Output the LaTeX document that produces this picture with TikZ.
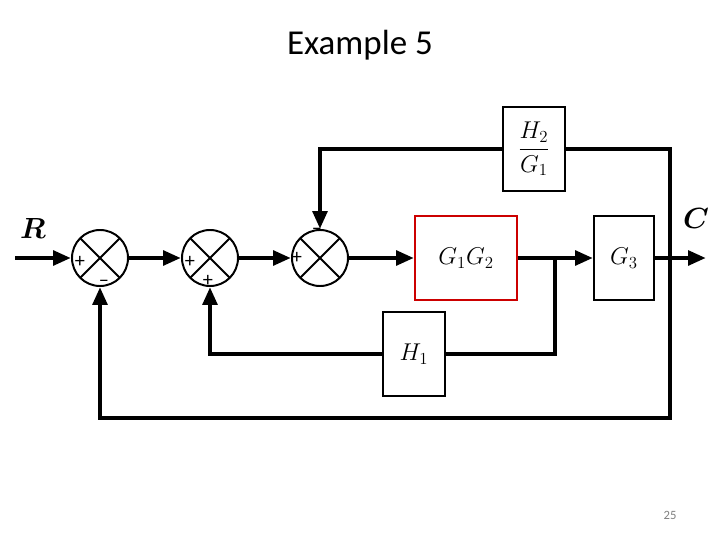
\documentclass[tikz,border=0pt]{standalone}
\usepackage{amsmath}
\usepackage{fontspec}
\setmainfont{Carlito}
\usetikzlibrary{arrows.meta}
\usetikzlibrary{positioning}
\tikzset{
  sum/.style={circle, draw, line width=1.4pt, minimum size=14mm, inner sep=0pt,
    path picture={\draw[line width=1.4pt] (path picture bounding box.north west) -- (path picture bounding box.south east)
      (path picture bounding box.north east) -- (path picture bounding box.south west);}},
  blk/.style={draw, line width=1.4pt, inner sep=0pt, font=\LARGE},
  sig/.style={line width=3.2pt, -{Triangle[length=4.5mm, width=3.6mm]}},
  wire/.style={line width=3.2pt},
  sign/.style={font=\Large}
}
\begin{document}
\begin{tikzpicture}[x=0.25mm, y=-0.25mm]
    \useasboundingbox (0,0) rectangle (720,540);
    \node[font=\Huge] (title) at (360,45) {Example 5};

    \node[sum] (s1) at (100,258) {};
    \node[sum] (s2) at (210,258) {};
    \node[sum] (s3) at (320,258) {};
    \node[blk, draw=red!80!black, minimum width=25.5mm, minimum height=21mm] (g12) at (466,258) {$G_1G_2$};
    \node[blk, minimum width=15mm, minimum height=21mm] (g3) at (624,258) {$G_3$};
    \node[blk, minimum width=15.5mm, minimum height=21mm] (h2) at (534,149) {$\dfrac{H_2}{G_1}$};
    \node[blk, minimum width=15.5mm, minimum height=21mm] (h1) at (414,354) {$H_1$};

    \coordinate (in) at (15,258);
    \coordinate (out) at (706,258);
    \coordinate (tap1) at (555,258);
    \coordinate (tap2) at (670,258);
    \node[font=\huge\bfseries] (lr) at (33,228) {$\boldsymbol{R}$};
    \node[font=\huge] (lc) at (696,218) {$\boldsymbol{C}$};

    % forward path
    \draw[sig] (in) -- (s1);
    \draw[sig] (s1) -- (s2);
    \draw[sig] (s2) -- (s3);
    \draw[sig] (s3) -- (g12);
    \draw[sig] (g12) -- (g3);
    \draw[sig] (g3) -- (out);

    % feedback loops
    \draw[wire] (tap2) |- (h2.east);
    \draw[sig] (h2.west) -| (s3.north);
    \draw[wire] (tap1) |- (h1.east);
    \draw[sig] (h1.west) -| (s2.south);
    \draw[sig] (tap2) |- (100,418) -- (s1.south);

    % signs
    \node[sign] (p1) at (80,262) {+};
    \node[sign] (m1) at (104,283) {--};
    \node[sign] (p2) at (190,262) {+};
    \node[sign] (p3) at (208,281) {+};
    \node[sign] (p4) at (297,258) {+};
    \node[sign] (m3) at (317,231) {--};

    \node[font=\small, text=gray] (pg) at (670,515) {25};
\end{tikzpicture}
\end{document}
